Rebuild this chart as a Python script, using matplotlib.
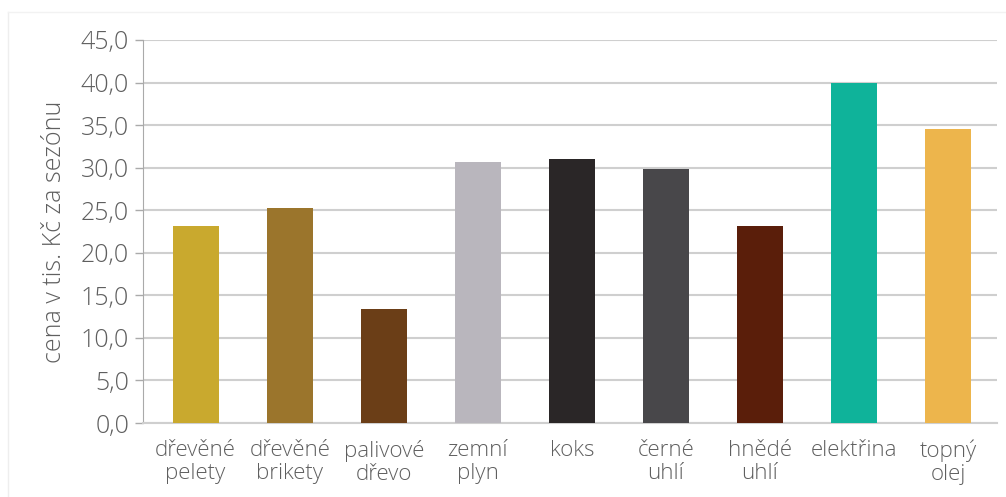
import matplotlib.pyplot as plt
from matplotlib.ticker import FuncFormatter
from matplotlib.lines import Line2D

# data
labels = ['dřevěné\npelety', 'dřevěné\nbrikety', 'palivové\ndřevo', 'zemní\nplyn', 'koks',
          'černé\nuhlí', 'hnědé\nuhlí', 'elektřina', 'topný\nolej']
values = [23.2, 25.3, 13.4, 30.7, 31.0, 29.9, 23.2, 40.0, 34.5]
colors = ['#C9A92E', '#9B752C', '#6B3E17', '#B9B6BD', '#2A2627',
          '#48474A', '#5A1E0A', '#0FB39A', '#EDB54C']
yticks = [0, 5, 10, 15, 20, 25, 30, 35, 40, 45]

plt.rcParams['font.family'] = ['Open Sans', 'DejaVu Sans']
plt.rcParams['font.weight'] = 'light'
text_col = '#5f5f5f'

fig = plt.figure(figsize=(10.06, 4.97), dpi=100)
ax = fig.add_axes([143 / 1006, 1 - 423 / 497, (997 - 143) / 1006, (423 - 40) / 497])

x = range(len(values))
ax.bar(x, values, width=0.49, color=colors, zorder=3)

ax.set_ylim(0, 45)
ax.set_xlim(-0.56, 8.52)
ax.set_yticks(yticks)
ax.yaxis.set_major_formatter(FuncFormatter(lambda v, p: f'{v:.1f}'.replace('.', ',')))
ax.set_xticks(list(x))
ax.set_xticklabels(labels, fontsize=16, color=text_col, linespacing=1.12, fontweight='light')
ax.tick_params(axis='x', length=0, pad=12)
ax.tick_params(axis='y', labelsize=18, labelcolor=text_col, color='#aaaaaa',
               length=6, width=1, direction='out', pad=4)
for t in ax.get_yticklabels():
    t.set_fontweight('light')

ax.grid(axis='y', color='#cfcfcf', linewidth=1.5, zorder=0)
for s in ['top', 'right']:
    ax.spines[s].set_visible(False)
ax.spines['left'].set_color('#aaaaaa')
ax.spines['bottom'].set_color('#cfcfcf')
ax.spines['bottom'].set_linewidth(1.5)

ax.set_ylabel('cena v tis. Kč za sezónu', fontsize=18, color=text_col, labelpad=10,
              fontweight='light')

# faint outer frame
fig.add_artist(Line2D([8 / 1006, 8 / 1006], [0, 1 - 12 / 497], transform=fig.transFigure,
                      color='#eeeeee', linewidth=1))
fig.add_artist(Line2D([8 / 1006, 1], [1 - 12 / 497, 1 - 12 / 497], transform=fig.transFigure,
                      color='#f2f2f2', linewidth=1))

fig.savefig('out.png', dpi=100)
